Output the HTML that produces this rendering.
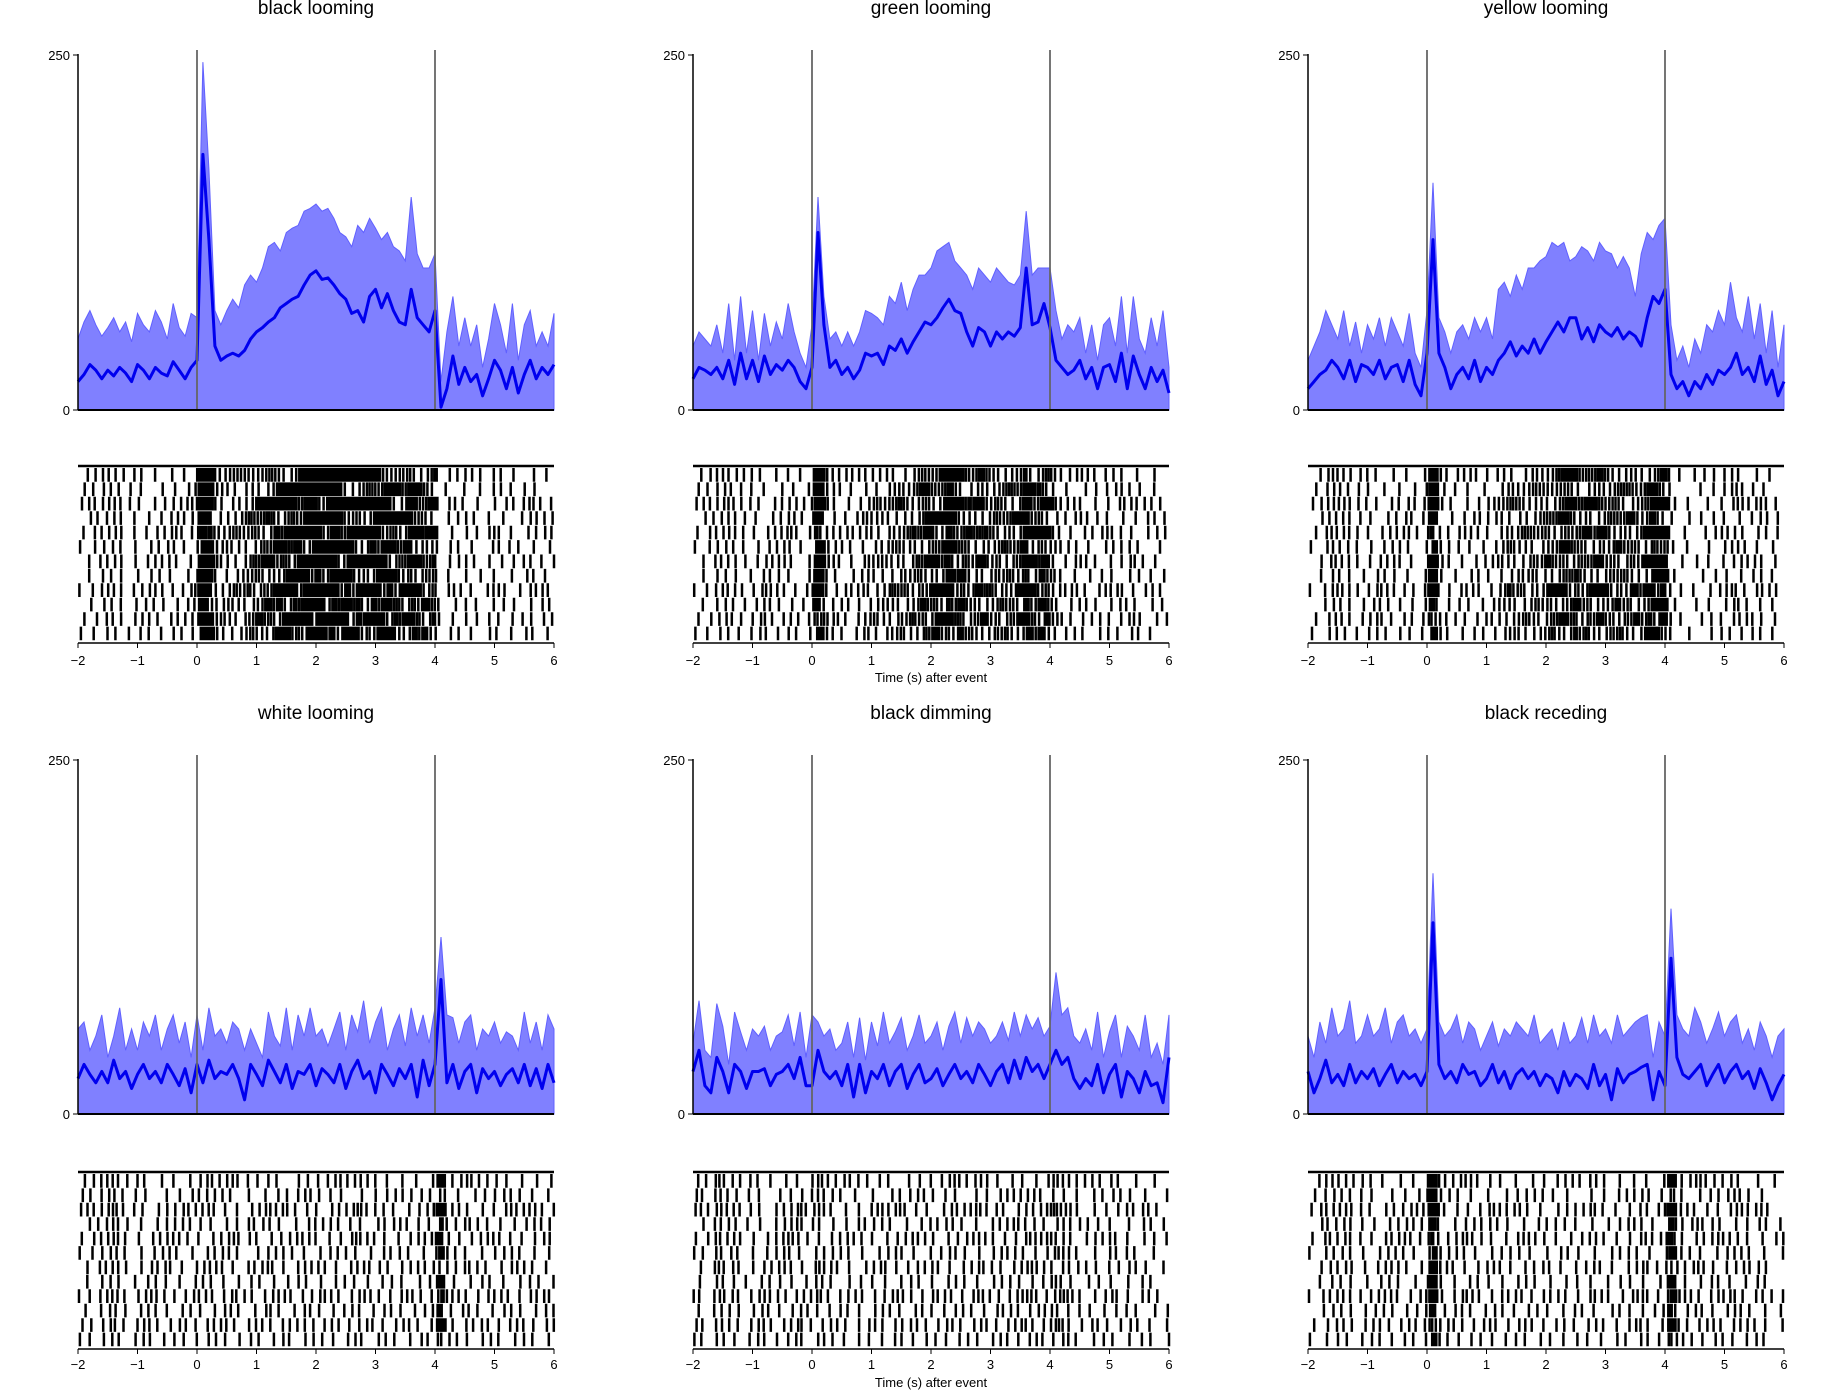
<!DOCTYPE html>
<html><head><meta charset="utf-8">
<style>
html,body{margin:0;padding:0;background:#fff;}
svg{display:block;font-family:"Liberation Sans","DejaVu Sans",sans-serif;}
</style></head>
<body>
<svg id="fig" width="1843" height="1398" viewBox="0 0 1843 1398" xmlns="http://www.w3.org/2000/svg"></svg>
<script>
const titles = ["black looming","green looming","yellow looming","white looming","black dimming","black receding"];
const xTicks = [-2,-1,0,1,2,3,4,5,6];
const xTickLabels = ["\u22122","\u22121","0","1","2","3","4","5","6"];
const yTicks = [0,250];
const eventTimes = [0,4];
const tStart = -2, tStep = 0.1;
const trialPhase = [0.05,0.42,0.77,0.18,0.63,0.91,0.29,0.55,0.84,0.12,0.47,0.70];
const trialGain = [1.0,0.85,1.15,0.95,1.1,0.9,1.05,0.8,1.2,0.92,1.08,0.88];

const meanBlackLoom = [20,25,32,28,22,28,24,30,26,20,32,28,22,30,26,24,34,28,22,30,
35,180,120,45,35,38,40,38,42,50,55,58,62,65,72,75,78,80,88,95,98,92,93,88,82,78,68,70,62,80,85,72,82,70,62,60,85,65,60,55,70,2,15,38,18,30,20,25,10,22,35,28,15,30,12,25,35,22,30,25,32];
const upperBlackLoom = [50,62,70,60,52,58,65,55,62,48,68,60,55,70,62,50,75,58,52,68,
65,245,170,70,60,70,78,72,88,95,90,100,115,118,112,125,128,130,140,142,145,140,142,135,125,122,115,130,125,135,128,120,125,115,112,105,150,110,100,100,110,20,55,80,45,65,45,60,30,50,75,60,40,75,35,60,70,45,55,45,68];
const meanGreenLoom = [22,30,28,25,30,22,35,18,40,22,35,20,38,25,32,28,35,30,20,15,
30,125,60,30,35,25,30,22,28,40,38,40,32,45,42,50,40,48,55,62,60,65,72,78,70,68,55,45,58,55,45,55,50,55,52,58,100,60,62,75,58,35,30,25,28,35,22,30,15,30,32,20,40,15,38,25,15,30,20,28,12];
const upperGreenLoom = [45,55,50,45,60,40,75,35,80,40,70,35,68,45,62,50,75,55,40,30,
60,150,80,50,55,45,55,45,55,70,68,65,60,80,75,90,70,85,95,95,100,112,115,118,105,100,95,85,100,95,90,100,95,90,88,95,140,95,100,100,100,70,50,60,55,65,40,60,35,60,65,45,80,40,80,50,40,65,45,70,30];
const meanYellowLoom = [15,20,25,28,35,30,22,35,20,32,30,25,35,22,30,32,20,35,18,10,
40,120,40,30,15,25,30,22,35,20,30,25,35,40,48,38,45,40,50,40,48,55,62,55,65,65,50,58,48,60,55,52,58,50,55,52,45,65,80,75,85,25,15,20,10,20,15,25,18,28,25,30,40,25,30,20,38,18,28,10,20];
const upperYellowLoom = [35,45,55,70,60,50,70,45,62,40,60,50,65,45,65,55,45,68,40,30,
70,160,65,55,40,55,60,50,65,55,65,50,85,90,80,95,85,100,100,105,108,118,115,118,105,108,115,112,105,118,112,110,100,108,100,80,110,125,120,130,135,60,35,45,30,50,40,60,55,70,60,90,65,55,80,50,75,40,70,30,60];
const meanWhiteLoom = [25,35,28,22,30,22,38,25,30,18,28,35,25,30,22,35,28,20,32,15,
35,22,38,25,30,28,35,25,10,35,28,20,38,30,22,35,18,30,28,35,20,32,28,22,35,18,30,38,25,30,15,35,28,20,32,25,35,12,38,20,35,95,22,35,18,30,35,15,32,25,30,20,28,32,22,35,20,32,18,35,22];
const upperWhiteLoom = [60,65,45,55,70,40,55,75,45,60,45,65,55,70,45,60,70,50,65,40,
70,45,75,55,60,50,65,60,45,60,50,40,72,55,48,75,45,70,55,75,55,60,48,60,72,45,70,58,80,50,65,75,45,60,70,48,75,55,70,50,75,125,70,68,50,65,70,45,60,55,65,50,58,55,45,72,50,65,45,70,60];
const meanBlackDim = [30,45,20,15,40,30,15,35,30,18,30,30,32,20,28,30,35,25,40,20,
20,45,30,25,30,20,35,12,35,15,30,25,35,20,30,35,18,28,35,22,25,32,20,28,35,25,30,22,35,28,20,30,35,22,38,25,40,30,35,25,35,45,35,40,25,18,25,20,35,15,28,35,12,30,25,15,30,20,22,8,40];
const upperBlackDim = [50,80,45,40,78,62,35,72,58,45,60,55,62,45,55,58,70,48,72,40,
70,65,55,60,45,50,65,40,68,38,65,48,72,50,58,68,45,55,70,50,55,65,45,62,72,50,68,55,65,60,50,55,65,52,72,55,70,60,68,55,62,100,70,75,55,50,60,45,72,40,58,70,40,62,55,45,70,40,50,35,70];
const meanBlackRec = [30,15,25,38,22,28,20,35,22,30,25,32,20,28,35,22,30,25,28,20,
30,135,35,25,30,22,35,28,30,20,25,35,22,30,18,28,32,25,30,20,28,25,15,30,20,28,25,18,35,20,28,10,32,22,28,30,33,35,10,30,20,110,40,28,25,30,35,20,28,35,22,30,35,25,30,18,32,22,10,20,28];
const upperBlackRec = [55,40,65,50,75,55,60,80,50,55,70,55,60,75,50,65,70,55,60,50,
60,170,65,55,60,70,50,65,60,45,55,65,48,60,55,65,60,55,70,50,55,60,45,65,50,55,68,50,70,55,60,50,70,55,60,65,68,70,40,65,55,145,70,60,55,75,65,50,60,72,55,65,70,50,60,45,65,55,40,55,60];

const meanSeries = [meanBlackLoom,meanGreenLoom,meanYellowLoom,meanWhiteLoom,meanBlackDim,meanBlackRec];
const upperSeries = [upperBlackLoom,upperGreenLoom,upperYellowLoom,upperWhiteLoom,upperBlackDim,upperBlackRec];

const NS = "http://www.w3.org/2000/svg";
const fig = document.getElementById('fig');
function mk(tag, attrs, parent){
  const e = document.createElementNS(NS, tag);
  for (const k in attrs) e.setAttribute(k, attrs[k]);
  (parent||fig).appendChild(e);
  return e;
}
const colLeft = [78,693,1308], plotW = 476;
const rowGeom = [
  {title:8, psthTop:55, psthBot:410, rasTop:466, rasBot:643, tickLbl:660, xlab:677},
  {title:713, psthTop:760, psthBot:1114, rasTop:1172, rasBot:1349, tickLbl:1364, xlab:1382}
];

for (let p = 0; p < 6; p++) {
  const c = p % 3, r = Math.floor(p / 3);
  const g0 = rowGeom[r], L = colLeft[c];
  const xs = t => L + (t - tStart) / 8 * plotW;
  const ys = v => g0.psthBot - v / 250 * (g0.psthBot - g0.psthTop);
  const panel = mk('g', {});
  
  

  const tt = mk('text', {x: L + plotW/2, y: g0.title + 6, 'font-size': 19, 'text-anchor':'middle', fill:'#000'}, panel);
  tt.textContent = titles[p];
  
  

  const mean = meanSeries[p], up = upperSeries[p];
  let d = 'M' + xs(tStart) + ',' + ys(0);
  up.forEach((v,i) => { d += 'L' + xs(tStart + i*tStep).toFixed(1) + ',' + ys(v).toFixed(1); });
  d += 'L' + xs(tStart + (up.length-1)*tStep) + ',' + ys(0) + 'Z';
  const band = mk('path', {d, fill:'#8080ff', stroke:'#6060ff', 'stroke-width':1}, panel);
  
  

  let dm = '';
  mean.forEach((v,i) => { dm += (i?'L':'M') + xs(tStart + i*tStep).toFixed(1) + ',' + ys(v).toFixed(1); });
  const line = mk('path', {d: dm, fill:'none', stroke:'#0000ee', 'stroke-width':3, 'stroke-linejoin':'round'}, panel);
  
  

  eventTimes.forEach(t => {
    const ev = mk('line', {x1: xs(t), x2: xs(t), y1: g0.psthTop - 5, y2: g0.psthBot, stroke:'#666', 'stroke-width':1.8}, panel);
    
    
  });

  const ya = mk('line', {x1: L, x2: L, y1: g0.psthTop - 1, y2: g0.psthBot, stroke:'#000', 'stroke-width':1.5}, panel);
  
  
  yTicks.forEach(v => {
    mk('line', {x1: L-5, x2: L, y1: ys(v), y2: ys(v), stroke:'#000', 'stroke-width':1}, panel);
    const yl = mk('text', {x: L-8, y: ys(v)+5, 'font-size':13, 'text-anchor':'end', fill:'#000'}, panel);
    yl.textContent = String(v);
    
    
  });
  const xa = mk('line', {x1: L, x2: L+plotW, y1: g0.psthBot, y2: g0.psthBot, stroke:'#000', 'stroke-width':2}, panel);
  
  

  const ras = mk('g', {}, panel);
  
  
  mk('line', {x1: L, x2: L+plotW, y1: g0.rasTop, y2: g0.rasTop, stroke:'#000', 'stroke-width':2.5}, ras);
  const nTr = trialPhase.length, rowH = (g0.rasBot - g0.rasTop - 4) / nTr;
  const dt = 0.004;
  let rd = '';
  for (let k = 0; k < nTr; k++) {
    let acc = trialPhase[k];
    const y1 = g0.rasTop + 2 + k*rowH, y2 = y1 + rowH*0.95;
    for (let t = tStart; t <= 6; t += dt) {
      const fi = (t - tStart) / tStep, i0 = Math.min(Math.floor(fi), mean.length-2), fr = fi - i0;
      const rate = Math.max(mean[i0]*(1-fr) + mean[i0+1]*fr, 0);
      const wob = 1 + 0.45*Math.sin(t*(3.1+k*0.7) + k) + 0.3*Math.sin(t*(11.3+k*1.9) + 2*k);
      acc += (0.16*rate + 0.0025*rate*rate) * trialGain[k] * Math.max(wob,0.1) * dt;
      if (acc >= 1) {
        acc -= 1;
        const x = xs(t).toFixed(1);
        rd += 'M' + x + ',' + y1.toFixed(1) + 'V' + y2.toFixed(1);
      }
    }
  }
  const spikes = mk('path', {d: rd, stroke:'#000', 'stroke-width':2.5, fill:'none'}, ras);
  
  

  const rx = mk('line', {x1: L, x2: L+plotW, y1: g0.rasBot, y2: g0.rasBot, stroke:'#000', 'stroke-width':1.5}, panel);
  
  
  xTicks.forEach((t,i) => {
    mk('line', {x1: xs(t), x2: xs(t), y1: g0.rasBot, y2: g0.rasBot+5, stroke:'#000', 'stroke-width':1}, panel);
    const xl = mk('text', {x: xs(t), y: g0.tickLbl+5, 'font-size':13, 'text-anchor':'middle', fill:'#000'}, panel);
    xl.textContent = xTickLabels[i];
    
    
  });
  if (c === 1) {
    const xlab = mk('text', {x: L + plotW/2, y: g0.xlab + 5, 'font-size':13, 'text-anchor':'middle', fill:'#000'}, panel);
    xlab.textContent = 'Time (s) after event';
    
    
  }
}
</script>
</body></html>
